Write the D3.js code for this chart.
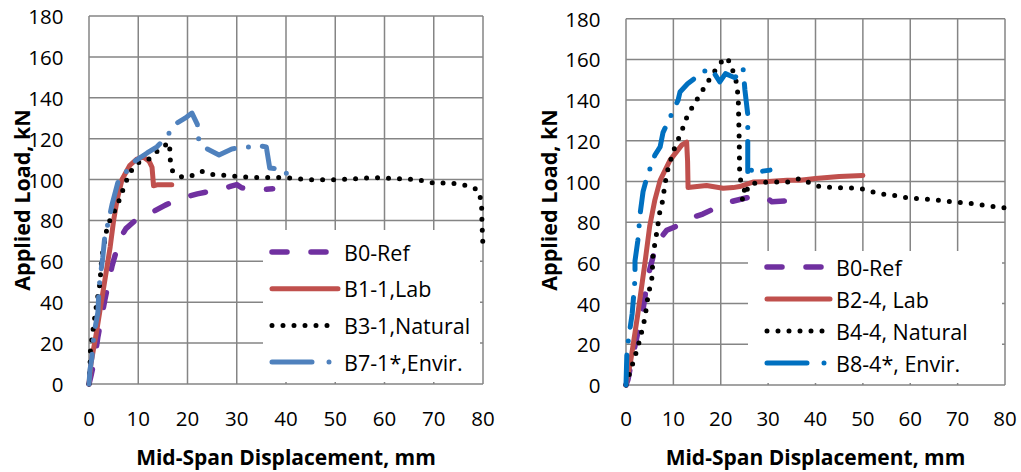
<!DOCTYPE html>
<html>
<head>
<meta charset="utf-8">
<script src="https://cdn.jsdelivr.net/npm/d3@7"></script>
<style>
  body { margin: 0; background: #fff; }
  text { font-family: "Open Sans", Lato, sans-serif; fill: #000; }
</style>
</head>
<body>
<div id="svgdiv"></div>
<script>
// axis ticks (same on both charts)
var xTicks = [0, 10, 20, 30, 40, 50, 60, 70, 80];
var yTicks = [0, 20, 40, 60, 80, 100, 120, 140, 160, 180];

// left chart series, [displacement mm, load kN]
var leftRef = [[0,0],[0.5,5],[1.2,13],[1.8,23],[2.5,32],[3.2,41],[4,50],[4.7,58],[5.9,68],[6.5,72],[7.5,76],[8.9,79],[10.5,82],[12.8,84],[15.5,87.5],[18.9,91],[22,93],[26,95],[28.5,96.5],[30,97.5],[31,96],[33,95],[35,95],[37.3,95.5]];
var leftLab = [[0,0],[0.4,10],[1.5,25],[2.5,40],[3.5,55],[4.3,67],[5,80],[5.7,90],[6.7,100],[8.3,107],[9.7,110],[11,111],[12.2,109],[12.8,106],[13,100],[13.1,97],[14,97.5],[15.5,97.5],[16.8,97.5]];
var leftNat = [[0,0],[0.2,8],[0.3,17],[0.9,28],[1.6,40],[2.2,49],[2.6,62],[3.2,70],[3.7,77],[4.6,82],[5.7,87],[6.9,95],[8,102],[9.3,107],[10.5,109],[12,109.6],[13.5,113],[14.8,116],[16.4,118],[16.4,113],[16.6,107],[17,104],[19,101],[21,102],[23,104],[25,102.5],[27.6,102],[30,101.5],[33,101],[36,101],[39,101],[42,100.5],[46,99.8],[51,100],[55,100.5],[58,101],[62,100.5],[66.5,100],[70.6,98],[73,98.5],[76,97.5],[79,95],[79.7,89],[79.8,78],[80,67]];
var leftEnv = [[0,0],[0.2,7],[0.6,13],[0.8,20],[1.2,27],[1.8,35],[2,45],[2.2,51],[2.8,62],[3.2,72],[4,80],[4.7,88],[5.9,99],[7.3,103],[9.3,109],[11.8,113],[13.8,116],[15.8,121],[17.4,127],[19.5,130],[20.9,132.5],[22,127],[22.3,119],[24,115],[26.4,112],[29,115],[31,115.5],[34.7,116.5],[36,116],[36.7,105.6],[39.4,105],[41.5,99]];

// right chart series
var rightRef = [[0,0],[0.4,2.5],[1.3,13],[2.3,23.6],[3.6,37],[4.6,53],[5.7,63],[6.5,70],[8.6,76],[12,79.4],[13.5,82],[16.2,84],[19.8,88],[22,90],[25.5,92],[27.5,93],[29.7,92],[30.8,90],[34,90.5],[37.3,91]];
var rightLab = [[0,0],[1,12],[2.5,35],[4,60],[5,78],[6.1,91],[7.2,100.6],[9.3,110.5],[11.8,118],[12.8,119.4],[13,110],[13.1,97],[15,97.5],[17,98],[20.5,96.7],[22.6,97],[24,97.5],[26.8,99.7],[30,100],[34,100.6],[36.7,100.6],[40,101.5],[45,102.5],[50,103]];
var rightNat = [[0,0],[0.8,6],[1.9,14],[3,23],[4,33],[4.6,43],[5.5,53],[5.7,64],[6.5,75],[7.2,86],[7.6,89],[8.6,104],[10,115],[11.8,125],[13,132.6],[14.9,140],[17,148],[19.2,156],[20.9,161],[22,158.6],[23.4,148],[23.7,140],[23.9,120],[24,102],[25.1,95],[24.5,91],[26.2,99],[30.4,99.8],[34,99.7],[36.7,101.5],[38,100],[41,97.4],[45,97],[49.4,96.6],[53.6,94],[57,93],[60,91.8],[65,91],[69,90],[72,89.5],[75.3,88.4],[80,87]];
var rightEnv = [[0,0],[0.2,17],[0.8,27],[1.3,35],[1.9,52],[1.9,61],[2.5,71],[3,84.5],[3.6,95],[4.4,102],[6.1,113],[7.2,117],[7.8,124],[11,140],[11.4,144],[13,148],[16.3,154],[18,155.5],[19.8,149],[21,153],[22,152],[23,151],[24.7,156],[25.1,145],[25.7,133],[25.7,122],[25.7,102],[26.8,107],[28.5,105],[30.4,105.6]];

var leftNames = ["B0-Ref", "B1-1,Lab", "B3-1,Natural", "B7-1*,Envir."];
var rightNames = ["B0-Ref", "B2-4, Lab", "B4-4, Natural", "B8-4*, Envir."];

var width = 1021, height = 472;
var svg = d3.select("#svgdiv").append("svg")
    .attr("width", width)
    .attr("height", height);

// line styles: dashed purple, solid red, dotted black, dash-dot blue
function styles(envColor) {
    return [
        {color: "#7030A0", dash: "15,24", w: 5.5},
        {color: "#C0504D", dash: null, w: 5},
        {color: "#000000", dash: "0,11", w: 5},
        {color: envColor, dash: "30,14,0,14", w: 5}
    ];
}

function drawChart(c) {
    var x = d3.scaleLinear().domain([0, 80]).range([c.left, c.right]);
    var y = d3.scaleLinear().domain([0, 180]).range([c.bottom, c.top]);
    var g = svg.append("g");

    // grid
    g.selectAll(".vg").data(xTicks).enter().append("line")
        .attr("x1", d => x(d)).attr("x2", d => x(d))
        .attr("y1", c.top).attr("y2", c.bottom)
        .style("stroke", "#858585").style("stroke-width", 1.5);
    g.selectAll(".hg").data(yTicks).enter().append("line")
        .attr("y1", d => y(d)).attr("y2", d => y(d))
        .attr("x1", c.left).attr("x2", c.right)
        .style("stroke", "#858585").style("stroke-width", 1.5);

    // tick labels
    g.selectAll(".xt").data(xTicks).enter().append("text")
        .attr("x", d => x(d)).attr("y", 418)
        .attr("text-anchor", "middle").attr("dominant-baseline", "central")
        .style("font-size", "20.5px").text(d => d);
    g.selectAll(".yt").data(yTicks).enter().append("text")
        .attr("x", c.left - 25.5).attr("y", d => y(d))
        .attr("text-anchor", "end").attr("dominant-baseline", "central")
        .style("font-size", "20.5px").text(d => d);

    // axis titles
    g.append("text")
        .attr("x", (c.left + c.right) / 2).attr("y", 457)
        .attr("text-anchor", "middle").attr("dominant-baseline", "central")
        .style("font-size", "21px").style("font-weight", "bold")
        .text("Mid-Span Displacement, mm");
    g.append("text")
        .attr("transform", "translate(" + c.ytitleX + ",200) rotate(-90)")
        .attr("text-anchor", "middle").attr("dominant-baseline", "central")
        .style("font-size", "21.5px").style("font-weight", "bold")
        .text("Applied Load, kN");

    var line = d3.line().x(d => x(d[0])).y(d => y(d[1]));
    var st = styles(c.envColor);

    // legend box sits behind the curves
    var lg = c.legend;
    g.append("rect")
        .attr("x", lg.x).attr("y", lg.y)
        .attr("width", lg.w).attr("height", lg.h)
        .style("fill", "#fff");

    c.series.forEach(function(s, i) {
        g.append("path")
            .attr("d", line(s))
            .style("fill", "none")
            .style("stroke", st[i].color)
            .style("stroke-width", st[i].w)
            .style("stroke-linecap", "round")
            .style("stroke-linejoin", "round")
            .style("stroke-dasharray", st[i].dash);
    });

    c.names.forEach(function(n, i) {
        var yy = lg.y0 + i * lg.step;
        g.append("line")
            .attr("x1", lg.sx).attr("x2", lg.sx + lg.sw)
            .attr("y1", yy).attr("y2", yy)
            .style("stroke", st[i].color)
            .style("stroke-width", st[i].w)
            .style("stroke-linecap", "round")
            .style("stroke-dasharray", i == 3 ? "40,17,0,20" : (i == 0 ? "15,24" : st[i].dash));
        g.append("text")
            .attr("x", lg.sx + lg.sw + 6).attr("y", yy)
            .attr("dominant-baseline", "central")
            .style("font-size", "21.5px").text(n);
    });
}

drawChart({
    left: 89, right: 483, top: 16, bottom: 384, ytitleX: 21,
    envColor: "#4F81BD",
    series: [leftRef, leftLab, leftNat, leftEnv],
    names: leftNames,
    legend: {x: 263, y: 230, w: 217, h: 152, sx: 272, sw: 66, y0: 252, step: 36.7}
});

drawChart({
    left: 626, right: 1005, top: 18.7, bottom: 385, ytitleX: 548,
    envColor: "#0070C0",
    series: [rightRef, rightLab, rightNat, rightEnv],
    names: rightNames,
    legend: {x: 748, y: 251, w: 254, h: 132, sx: 767, sw: 63, y0: 267, step: 32}
});
</script>
</body>
</html>
